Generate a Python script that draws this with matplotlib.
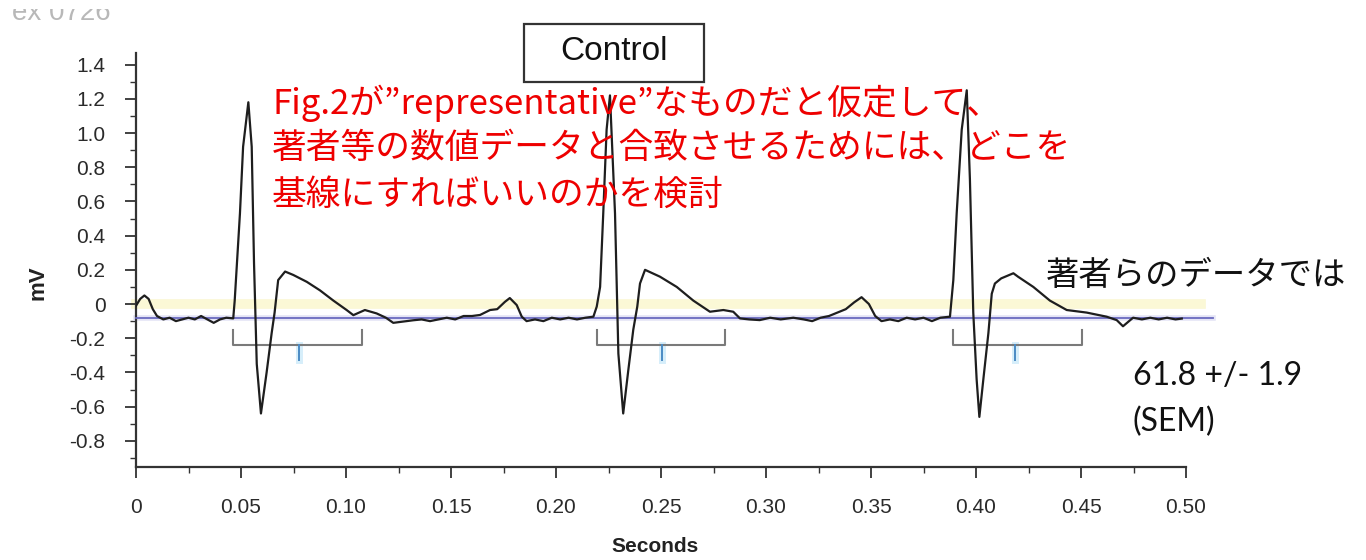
import matplotlib
matplotlib.use("Agg")
from matplotlib import pyplot as plt
from matplotlib.patches import Rectangle

# ECG trace (seconds, mV)
time_s = [
    0.000, 0.002, 0.004, 0.006, 0.008, 0.010, 0.013, 0.016, 0.019, 0.022,
    0.025, 0.028, 0.031, 0.034, 0.037, 0.040, 0.043, 0.0463,
    0.047, 0.0495, 0.051, 0.0535, 0.0551, 0.0562, 0.0575, 0.0595, 0.0622, 0.0646,
    0.066, 0.0677, 0.0710, 0.0749, 0.0813, 0.0876, 0.094, 0.1003, 0.1035, 0.109,
    0.1146, 0.119, 0.1225, 0.129, 0.132,
    0.136, 0.140, 0.144, 0.148, 0.152, 0.156, 0.160, 0.1638, 0.1686, 0.172,
    0.1757, 0.178, 0.1813, 0.1837, 0.186, 0.190, 0.194, 0.198, 0.202, 0.206,
    0.210, 0.214, 0.2178,
    0.2194, 0.221, 0.2225, 0.2241, 0.2257, 0.2281, 0.2297, 0.232, 0.2344, 0.2368,
    0.2387, 0.240, 0.2424, 0.2495, 0.2575, 0.2654, 0.2733, 0.2797, 0.2844, 0.2876,
    0.292, 0.297, 0.302, 0.307, 0.313,
    0.318, 0.322, 0.326, 0.330, 0.334, 0.338, 0.342, 0.3455, 0.349, 0.352,
    0.355, 0.359, 0.363, 0.367, 0.371, 0.375, 0.379, 0.383, 0.3876,
    0.3892, 0.3908, 0.3932, 0.3956, 0.3971, 0.3987, 0.4003, 0.4016, 0.4035, 0.4059,
    0.4075, 0.409, 0.412, 0.4178, 0.420, 0.4273, 0.4352, 0.4432, 0.4527, 0.4622,
    0.467, 0.470, 0.4748, 0.479, 0.483, 0.487, 0.491, 0.495, 0.498,
]
voltage_mv = [
    -0.01, 0.03, 0.05, 0.03, -0.03, -0.07, -0.09, -0.08, -0.10, -0.09,
    -0.08, -0.09, -0.07, -0.09, -0.11, -0.09, -0.08, -0.084,
    0.02, 0.53, 0.92, 1.18, 0.92, 0.24, -0.35, -0.64, -0.40, -0.17,
    -0.05, 0.14, 0.19, 0.17, 0.13, 0.08, 0.02, -0.035, -0.065, -0.035,
    -0.055, -0.08, -0.11, -0.10, -0.095,
    -0.09, -0.10, -0.09, -0.08, -0.09, -0.07, -0.07, -0.064, -0.035, -0.03,
    0.013, 0.035, -0.006, -0.074, -0.10, -0.09, -0.10, -0.08, -0.09, -0.08,
    -0.09, -0.08, -0.074,
    -0.015, 0.10, 0.53, 1.02, 1.22, 0.53, -0.29, -0.64, -0.39, -0.15,
    -0.015, 0.12, 0.20, 0.16, 0.10, 0.02, -0.045, -0.035, -0.045, -0.084,
    -0.09, -0.094, -0.08, -0.09, -0.08,
    -0.09, -0.10, -0.08, -0.07, -0.05, -0.03, 0.01, 0.04, 0.00, -0.07,
    -0.10, -0.09, -0.10, -0.08, -0.09, -0.08, -0.10, -0.08, -0.074,
    0.14, 0.53, 1.02, 1.25, 0.73, -0.05, -0.44, -0.66, -0.44, -0.17,
    0.06, 0.12, 0.15, 0.18, 0.16, 0.10, 0.02, -0.035, -0.05, -0.074,
    -0.094, -0.13, -0.08, -0.09, -0.08, -0.09, -0.08, -0.09, -0.085,
]

# interval brackets under each beat: start, end, marked midpoint (s)
bracket_start = [0.0463, 0.2195, 0.3890]
bracket_end = [0.1075, 0.2805, 0.4505]
bracket_mark = [0.0778, 0.2505, 0.4186]

zero_line = 0.0
baseline = -0.082

x_ticks = [0, 0.05, 0.10, 0.15, 0.20, 0.25, 0.30, 0.35, 0.40, 0.45, 0.50]
x_labels = ["0", "0.05", "0.10", "0.15", "0.20", "0.25", "0.30", "0.35", "0.40", "0.45", "0.50"]
y_ticks = [1.4, 1.2, 1.0, 0.8, 0.6, 0.4, 0.2, 0, -0.2, -0.4, -0.6, -0.8]
y_labels = ["1.4", "1.2", "1.0", "0.8", "0.6", "0.4", "0.2", "0", "-0.2", "-0.4", "-0.6", "-0.8"]

note_lines = [
    "Fig.2が”representative”なものだと仮定して、",
    "著者等の数値データと合致させるためには、どこを",
    "基線にすればいいのかを検討",
]
side_note = "著者らのデータでは"
result_lines = ["61.8 +/- 1.9", "(SEM)"]

jp_fonts = ["Noto Sans CJK JP", "DejaVu Sans"]

fig = plt.figure(figsize=(13.66, 5.6), dpi=100)
ax = fig.add_axes([136 / 1366, 1 - 467 / 560, 1050 / 1366, 414 / 560])

ax.axhline(zero_line, xmin=0, xmax=0.507 / 0.5, color="#fbf8d6", lw=7, clip_on=False, zorder=1)
ax.plot([0, 0.513], [baseline, baseline], color="#e4e4f6", lw=4, clip_on=False, zorder=2)
ax.plot([0, 0.513], [baseline, baseline], color="#6b6bbf", lw=1.3, clip_on=False, zorder=3)

ax.plot(time_s, voltage_mv, color="#1e1e1e", lw=1.6, zorder=5)

for s, e, m in zip(bracket_start, bracket_end, bracket_mark):
    ax.plot([s, s, e, e], [-0.152, -0.24, -0.24, -0.152], color="#7a7a7a", lw=1.5, zorder=4)
    ax.plot([m, m], [-0.24, -0.33], color="#d6eefa", lw=5, zorder=3)
    ax.plot([m, m], [-0.24, -0.33], color="#4b8bc4", lw=1.4, zorder=4)

ax.set_xlim(0, 0.5)
ax.set_ylim(-0.953, 1.468)
ax.spines["top"].set_visible(False)
ax.spines["right"].set_visible(False)
for side in ["left", "bottom"]:
    ax.spines[side].set_color("#333333")
    ax.spines[side].set_linewidth(1.6)

ax.set_xticks(x_ticks)
ax.set_xticklabels(x_labels)
ax.set_xticks([0.025 + 0.05 * i for i in range(10)], minor=True)
ax.set_yticks(y_ticks)
ax.set_yticklabels(y_labels)
ax.set_yticks([-0.9 + 0.1 * i for i in range(24)], minor=True)
ax.tick_params(which="major", direction="out", length=8, width=1.3, color="#333333",
               labelsize=15, labelcolor="#2a2a2a", pad=14)
ax.tick_params(which="minor", direction="out", length=4, width=1.0, color="#333333")
for lbl in ax.get_xticklabels() + ax.get_yticklabels():
    lbl.set_family("Liberation Sans")

fig.text(655 / 1366, 1 - 547 / 560, "Seconds", ha="center", va="center",
         fontsize=15, fontweight="bold", family="Liberation Sans", color="#222222")
fig.text(38 / 1366, 1 - 283 / 560, "mV", ha="center", va="center", rotation=90,
         fontsize=16, fontweight="bold", family="Liberation Sans", color="#222222")

# heading in the corner, only its lower half shows under the top strip
fig.text(12 / 1366, 1 - 20 / 560, "ex 0726", ha="left", va="baseline",
         fontsize=20, family="Liberation Sans", color="#b8b8b8")
fig.patches.append(Rectangle((0, 1 - 9 / 560), 0.2, 9 / 560, transform=fig.transFigure,
                             facecolor="white", edgecolor="none", zorder=10))

fig.patches.append(Rectangle((524 / 1366, 1 - 82 / 560), 180 / 1366, 58 / 560,
                             transform=fig.transFigure, facecolor="white",
                             edgecolor="#333333", lw=1.6, zorder=6))
fig.text(614 / 1366, 1 - 51 / 560, "Control", ha="center", va="center",
         fontsize=24, family="Liberation Sans", color="#111111", zorder=7)

for i, line in enumerate(note_lines):
    fig.text(272 / 1366, 1 - (103 + 46 * i) / 560, line, ha="left", va="center",
             fontsize=25, family=jp_fonts, color="#ee0000", zorder=8)

fig.text(1046 / 1366, 1 - 275 / 560, side_note, ha="left", va="center",
         fontsize=24, family=jp_fonts, color="#111111")
for i, line in enumerate(result_lines):
    fig.text(1133 / 1366, 1 - (376 + 46 * i) / 560, line, ha="left", va="center",
             fontsize=23, family="Lato", color="#111111")

fig.savefig("out.png", dpi=100, facecolor="white")
